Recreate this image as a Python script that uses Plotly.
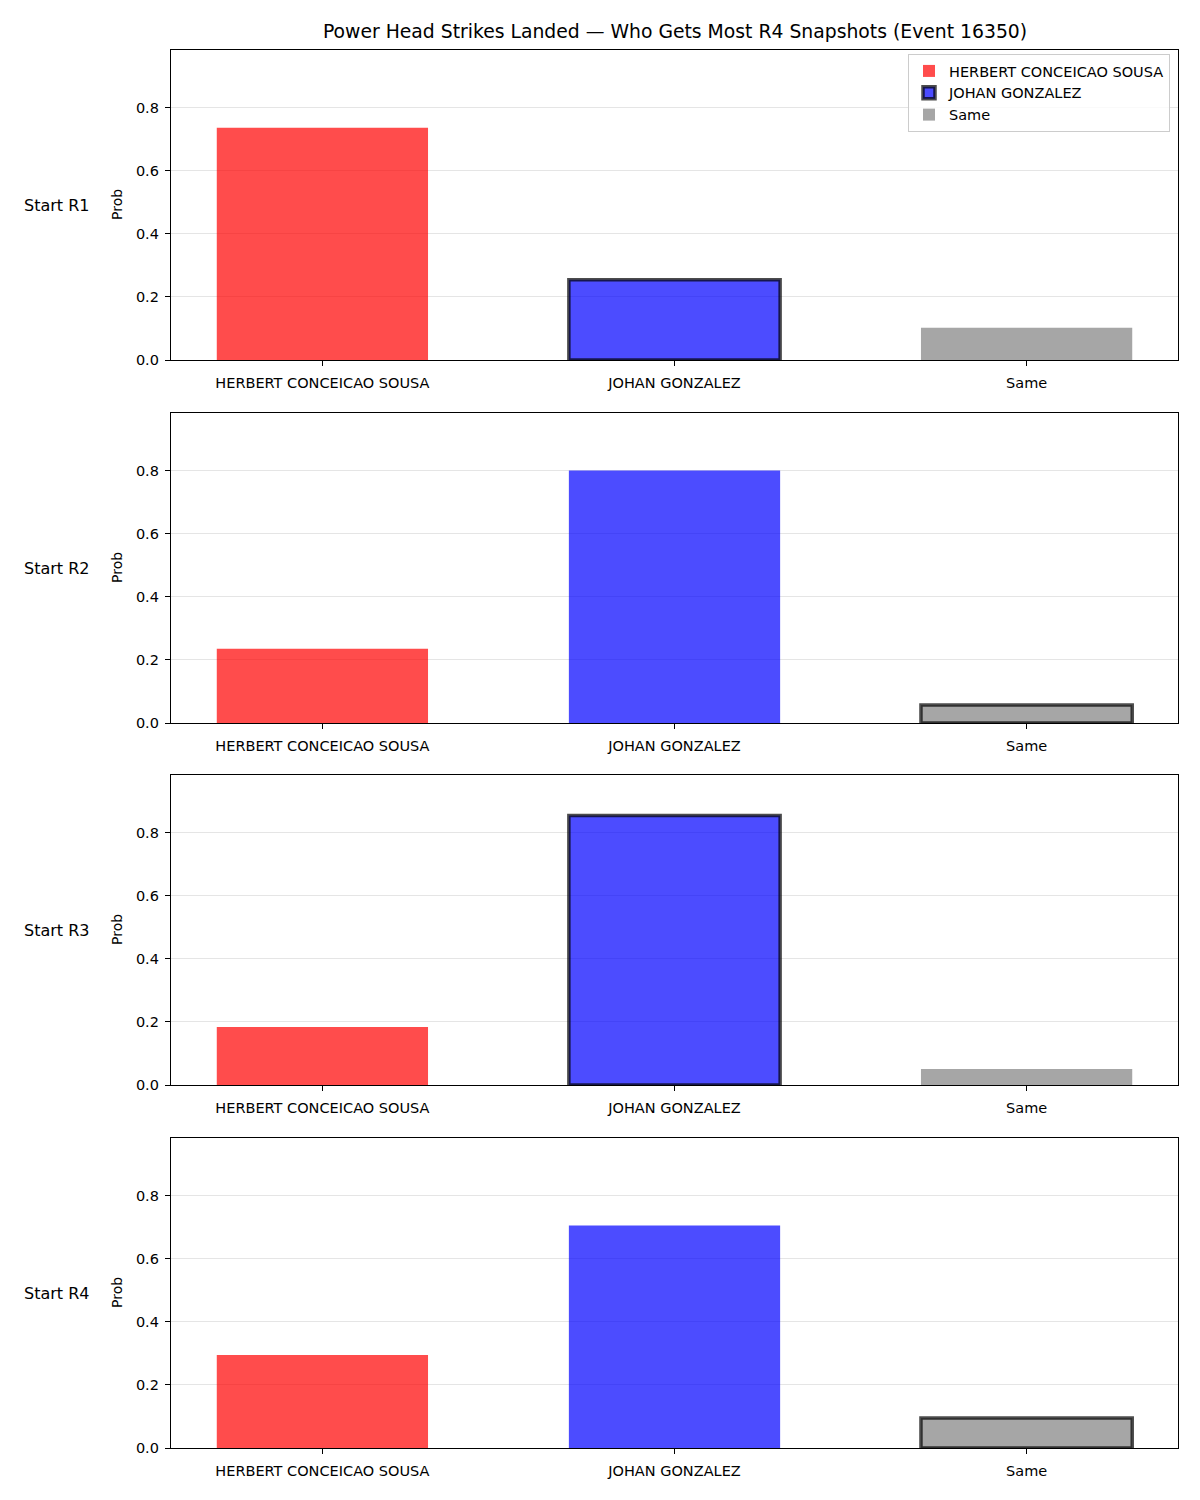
import plotly.graph_objects as go

categories = ["HERBERT CONCEICAO SOUSA", "JOHAN GONZALEZ", "Same"]
row_labels = ["Start R1", "Start R2", "Start R3", "Start R4"]
r1_values = [0.736, 0.254, 0.102]
r2_values = [0.235, 0.800, 0.057]
r3_values = [0.184, 0.854, 0.051]
r4_values = [0.295, 0.705, 0.095]
highlighted = ["JOHAN GONZALEZ", "Same", "JOHAN GONZALEZ", "Same"]
title_text = "Power Head Strikes Landed \u2014 Who Gets Most R4 Snapshots (Event 16350)"
y_tickvals = [0.0, 0.2, 0.4, 0.6, 0.8]

rows = [r1_values, r2_values, r3_values, r4_values]
colors = ["rgba(255,0,0,0.7)", "rgba(0,0,255,0.7)", "rgba(128,128,128,0.7)"]

W, H = 1200, 1500
HE = 1492.0  # effective rendered height used for px -> domain conversion
x0_px, x1_px = 171, 1178
panels_px = [(50, 360), (413, 723), (775, 1085), (1138, 1448)]

ymax = max(max(r) for r in rows) * 1.15

fig = go.Figure()
font = "DejaVu Sans, sans-serif"

for i, vals in enumerate(rows):
    n = i + 1
    xa = "x" if n == 1 else f"x{n}"
    ya = "y" if n == 1 else f"y{n}"
    for j, cat in enumerate(categories):
        hl = cat == highlighted[i]
        fig.add_trace(go.Bar(
            x=[j], y=[vals[j]], width=0.6, name=cat,
            marker=dict(color=colors[j],
                        line=dict(color="rgba(0,0,0,0.7)", width=3.5 if hl else 0)),
            xaxis=xa, yaxis=ya, showlegend=(n == 1), legendgroup=cat,
        ))
    top, bot = panels_px[i]
    dom_y = [1 - bot / HE, 1 - top / HE]
    axcommon = dict(showline=True, linecolor="black", linewidth=1.3, mirror=True,
                    ticks="outside", ticklen=5, tickwidth=1.2, tickcolor="black",
                    tickfont=dict(family=font, size=14.5, color="black"), zeroline=False)
    fig.layout[f"xaxis{'' if n == 1 else n}"] = dict(
        domain=[x0_px / W, x1_px / W], anchor=ya, range=[-0.43, 2.43],
        tickvals=[0, 1, 2], ticktext=categories, showgrid=False,
        ticklabelstandoff=4, **axcommon)
    fig.layout[f"yaxis{'' if n == 1 else n}"] = dict(
        domain=dom_y, anchor=xa, range=[0, ymax], tickvals=y_tickvals,
        tickformat=".1f", showgrid=True, gridcolor="rgba(0,0,0,0.1)", gridwidth=1,
        ticklabelstandoff=3, **axcommon)
    ymid = 1 - (top + bot) / 2 / HE
    fig.add_annotation(text=row_labels[i], xref="paper", yref="paper",
                       x=91 / W, y=ymid, xanchor="right", yanchor="middle", showarrow=False,
                       font=dict(family=font, size=16, color="black"))
    fig.add_annotation(text="Prob", xref="paper", yref="paper", textangle=-90,
                       x=117 / W, y=ymid, xanchor="center", yanchor="middle", showarrow=False,
                       font=dict(family=font, size=14, color="black"))

fig.update_layout(
    width=W, height=H, margin=dict(l=0, r=0, t=0, b=0),
    paper_bgcolor="white", plot_bgcolor="white", barmode="overlay",
    title=dict(text=title_text, x=0.5625, xanchor="center", y=1 - 31 / HE, yanchor="middle",
               font=dict(family=font, size=18.8, color="black")),
    legend=dict(x=1170 / W, y=1 - 54 / HE, xanchor="right", yanchor="top",
                bgcolor="rgba(255,255,255,0.8)", bordercolor="#cccccc", borderwidth=1,
                font=dict(family=font, size=14.5, color="black"), tracegroupgap=0),
    font=dict(family=font),
)

fig.write_html("out.html")
